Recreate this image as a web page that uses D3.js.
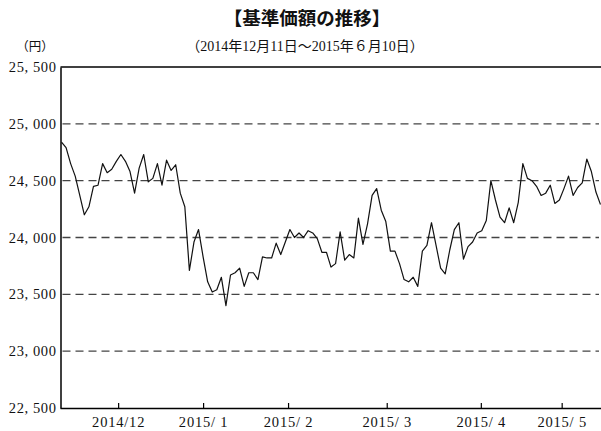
<!DOCTYPE html>
<html><head><meta charset="utf-8">
<script src="https://cdn.jsdelivr.net/npm/d3@7"></script>
<style>
html,body{margin:0;padding:0;background:#fff;}
svg{display:block;}
</style></head>
<body>
<svg id="chart" width="601" height="431"></svg>
<script>
const title = "【基準価額の推移】";
const subtitle = "（2014年12月11日～2015年６月10日）";
const unitLabel = "（円）";
const navValues = [
24840,24790,24650,24540,24370,24200,24270,24450,24460,24650,
24570,24600,24670,24730,24670,24580,24390,24610,24730,24490,
24520,24650,24460,24680,24590,24640,24390,24270,23710,23960,
24070,23830,23610,23520,23540,23650,23400,23670,23690,23730,
23570,23690,23690,23630,23830,23820,23820,23950,23850,23960,
24070,24000,24040,24000,24060,24040,23990,23870,23870,23740,
23770,24050,23800,23850,23820,24170,23940,24120,24370,24430,
24240,24140,23880,23880,23770,23630,23610,23650,23570,23880,
23930,24130,23930,23730,23680,23890,24070,24130,23810,23920,
23960,24040,24060,24150,24500,24330,24180,24130,24260,24130,
24310,24650,24520,24500,24450,24370,24390,24460,24300,24330,
24430,24540,24370,24440,24480,24690,24580,24400,24290
];
const yTicks = [22500,23000,23500,24000,24500,25000,25500];
const monthLabels = ["2014/12","2015/ 1","2015/ 2","2015/ 3","2015/ 4","2015/ 5"];
const monthTickIndex = [12.4,31,49.6,71.2,91.8,109.5];

const svg = d3.select("#chart");
const L = 60.5, R = 601, T = 67, B = 408;
const x = d3.scaleLinear().domain([0, navValues.length - 1]).range([61.5, 600.5]);
const y = d3.scaleLinear().domain([22500, 25500]).range([B, T]);

const serif = "'Liberation Serif','Noto Sans CJK JP',serif";
const jp = "'Liberation Serif','Noto Sans CJK JP',sans-serif";

svg.append("text").attr("x", 307).attr("y", 25).attr("text-anchor","middle")
  .attr("font-family","'Noto Sans CJK JP',sans-serif").attr("font-weight","bold")
  .attr("font-size",18.5).attr("fill","#111").text(title);
svg.append("text").attr("x", 305).attr("y", 51).attr("text-anchor","middle")
  .attr("font-family",jp).attr("font-size",14).attr("fill","#111").text(subtitle);
svg.append("text").attr("x", 35).attr("y", 51).attr("text-anchor","middle")
  .attr("font-family",jp).attr("font-size",12.5).attr("fill","#111").text(unitLabel);

// gridlines
svg.append("g").selectAll("line").data(yTicks.filter(d => d > 22500 && d < 25500)).join("line")
  .attr("x1", L + 2).attr("x2", 599).attr("y1", d => y(d)).attr("y2", d => y(d))
  .attr("stroke","#444").attr("stroke-width",1.4).attr("stroke-dasharray","8,5");

// top line
svg.append("line").attr("x1", L).attr("x2", R).attr("y1", y(25500)).attr("y2", y(25500))
  .attr("stroke","#000").attr("stroke-width",1.5);

// y axis
const yAxis = d3.axisLeft(y).tickValues(yTicks).tickSize(0).tickPadding(4)
  .tickFormat(d => d3.format(",")(d).replace(",", ", "));
const gy = svg.append("g").attr("transform",`translate(${L},0)`).call(yAxis);
gy.select(".domain").attr("stroke","#000").attr("stroke-width",1.5);
gy.selectAll("text").attr("font-family",serif).attr("font-size",14.5)
  .attr("letter-spacing",0.6).attr("fill","#111");

// x axis
const xAxis = d3.axisBottom(x).tickValues(monthTickIndex).tickSizeInner(-5).tickSizeOuter(0).tickPadding(9)
  .tickFormat((d,i) => monthLabels[i]);
const gx = svg.append("g").attr("transform",`translate(0,${B})`).call(xAxis);
gx.select(".domain").attr("d", `M${L},0.5H${R}`).attr("stroke","#000").attr("stroke-width",1.5);
gx.selectAll(".tick line").attr("stroke","#000").attr("stroke-width",1.2);
gx.selectAll("text").attr("font-family",serif).attr("font-size",14.5)
  .attr("letter-spacing",0.8).attr("fill","#111");

// line
svg.append("path").datum(navValues)
  .attr("fill","none").attr("stroke","#111").attr("stroke-width",1.2).attr("stroke-linejoin","round")
  .attr("d", d3.line().x((d,i) => x(i)).y(d => y(d)));
</script>
</body></html>
